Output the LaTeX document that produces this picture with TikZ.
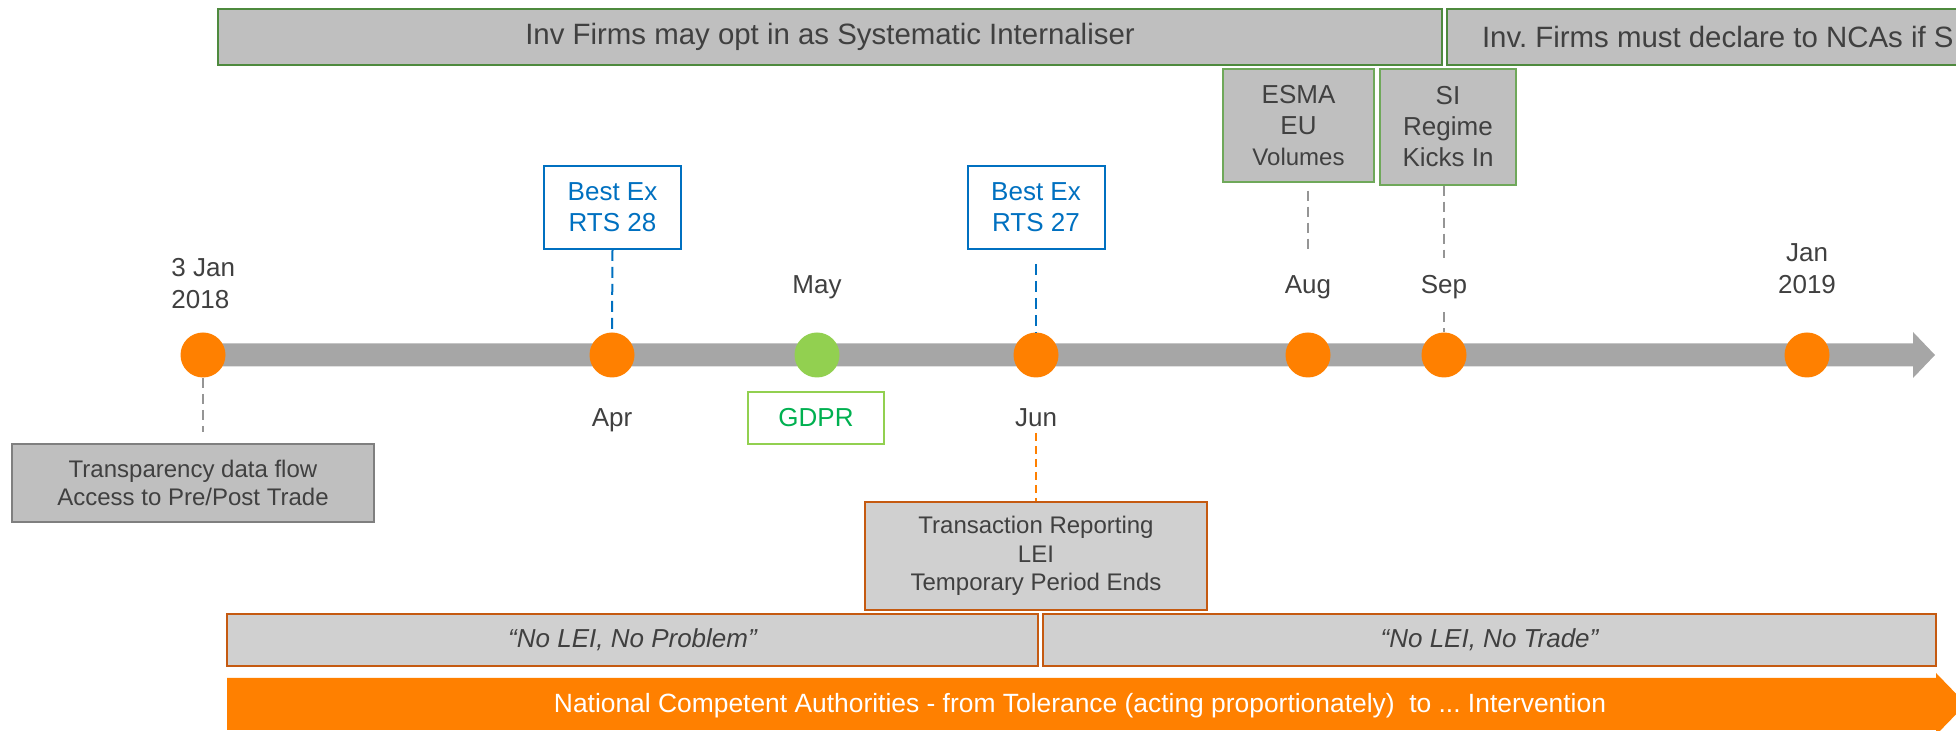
\documentclass[tikz,border=0pt]{standalone}
\usepackage{fontspec}
\setmainfont{Liberation Sans}
\frenchspacing
\definecolor{txtgray}{HTML}{404040}
\definecolor{barfill}{HTML}{BFBFBF}
\definecolor{lightfill}{HTML}{D0D0D0}
\definecolor{siggreen}{HTML}{4E8A3E}
\definecolor{softgreen}{HTML}{6FA85A}
\definecolor{tlgray}{HTML}{A6A6A6}
\definecolor{dotorange}{HTML}{FF8000}
\definecolor{dotgreen}{HTML}{92D050}
\definecolor{gdprtext}{HTML}{00B050}
\definecolor{bestblue}{HTML}{0070C0}
\definecolor{rust}{HTML}{C55A11}
\definecolor{boxgray}{HTML}{7F7F7F}
\definecolor{dashgray}{HTML}{959595}
\pgfdeclarelayer{bg}
\pgfsetlayers{bg,main}
\begin{document}
\begin{tikzpicture}[x=0.5pt,y=-0.5pt,
  every node/.style={text=txtgray},
  topbar/.style={draw=siggreen, line width=1pt, fill=barfill, minimum height=28pt, inner sep=0pt,
    font=\fontsize{14.7}{17}\selectfont},
  greybox/.style={draw=softgreen, line width=0.6pt, fill=barfill, inner sep=0pt, align=center,
    font=\fontsize{13}{15.5}\selectfont},
  bluebox/.style={draw=bestblue, line width=1pt, text=bestblue, inner sep=0pt, align=center,
    minimum width=68.5pt, minimum height=41.5pt, font=\fontsize{13}{15.5}\selectfont},
  leibox/.style={draw=rust, line width=1.2pt, fill=lightfill, inner sep=0pt, minimum height=26pt,
    font=\fontsize{13}{15.5}\selectfont\itshape},
  odot/.style={circle, fill=dotorange, minimum size=22.5pt, inner sep=0pt},
  gdot/.style={circle, fill=dotgreen, minimum size=22.5pt, inner sep=0pt},
  monthlbl/.style={inner sep=0pt, text height=9.5pt, text depth=3pt, font=\fontsize{13}{15.5}\selectfont},
  yearlbl/.style={inner sep=0pt, align=center, font=\fontsize{13}{16}\selectfont},
  graydash/.style={draw=dashgray, line width=1pt, dash pattern=on 5pt off 3pt},
  bluedash/.style={draw=bestblue, line width=1pt, dash pattern=on 5.5pt off 3pt},
  orangedash/.style={draw=dotorange, line width=0.8pt, dash pattern=on 4pt off 2.5pt},
]
\useasboundingbox (0,0) rectangle (1956,731);

% top regime bars (the second one runs on past the right edge)
\node[topbar, minimum width=612pt] (optin) at (830,37) {Inv Firms may opt in as Systematic Internaliser};
\node[topbar, anchor=west, inner xsep=17.5pt] (declare) at (1446,37)
  {\makebox[290pt][l]{Inv. Firms must declare to NCAs if SI}};

% milestones on the timeline
\node[odot] (d1) at (203,355) {};
\node[odot] (d2) at (612,355) {};
\node[gdot] (d3) at (817,355) {};
\node[odot] (d4) at (1036,355) {};
\node[odot] (d5) at (1308,355) {};
\node[odot] (d6) at (1444,355) {};
\node[odot] (d7) at (1807,355) {};

% timeline arrow
\begin{pgfonlayer}{bg}
  \fill[tlgray] (203,343.5) -- (1913,343.5) -- (1913,332) -- (1935,355)
    -- (1913,378) -- (1913,366.5) -- (203,366.5) -- cycle;
\end{pgfonlayer}

% date labels
\node[yearlbl, align=left, anchor=west] (jan18) at (171,284) {3 Jan\\2018};
\node[monthlbl] (aprlbl) at (612,420) {Apr};
\node[monthlbl] (maylbl) at (817,287) {May};
\node[monthlbl] (junlbl) at (1036,420) {Jun};
\node[monthlbl] (auglbl) at (1308,287) {Aug};
\node[monthlbl] (seplbl) at (1444,287) {Sep};
\node[yearlbl] (jan19) at (1807,269) {Jan\\2019};

% event boxes
\node[bluebox] (rts28) at (612.5,207.5) {Best Ex\\RTS 28};
\node[bluebox] (rts27) at (1036,207.5) {Best Ex\\RTS 27};
\node[draw=dotgreen, line width=0.9pt, text=gdprtext, inner sep=0pt, minimum width=68pt,
  minimum height=26pt, font=\fontsize{13}{15.5}\selectfont] (gdpr) at (816,418) {GDPR};
\node[greybox, minimum width=75.5pt, minimum height=56.5pt] (esma) at (1298.5,125.5)
  {ESMA\\EU\\{\fontsize{12}{15.5}\selectfont Volumes}};
\node[greybox, minimum width=68pt, minimum height=58pt] (si) at (1448,127)
  {SI\\Regime\\Kicks In};
\node[draw=boxgray, line width=1pt, fill=barfill, inner sep=0pt, align=center,
  minimum width=181pt, minimum height=39pt, font=\fontsize{12}{14}\selectfont] (transp) at (193,483)
  {Transparency data flow\\Access to Pre/Post Trade};
\node[draw=rust, line width=1pt, fill=lightfill, inner sep=0pt, align=center,
  minimum width=171pt, minimum height=54pt, font=\fontsize{12}{14.25}\selectfont] (trans) at (1036,556)
  {Transaction Reporting\\LEI\\Temporary Period Ends};

% LEI periods
\node[leibox, minimum width=405.5pt] (noprob) at (632.5,640) {“No LEI, No Problem”};
\node[leibox, minimum width=446.5pt] (notrade) at (1489.5,640) {“No LEI, No Trade”};

% NCA arrow
\fill[dotorange] (227,678) -- (1936,678) -- (1936,673) -- (1966,704) -- (1936,735)
  -- (1936,730) -- (227,730) -- cycle;
\node[text=white, inner sep=0pt, font=\fontsize{13.2}{15.5}\selectfont] (nca) at (1080,706)
  {National Competent Authorities - from Tolerance (acting proportionately)\ \ to ... Intervention};

% connectors
\draw[graydash, shorten >=5.5pt] (d1.south) -- (transp.north -| d1.south);
\draw[bluedash] (rts28.south) -- (d2.north);
\draw[bluedash, shorten <=7pt] (rts27.south) -- (d4.north);
\draw[orangedash] (junlbl.south) -- (trans.north);
\draw[graydash, shorten <=4pt, shorten >=10.75pt] (esma.south -| auglbl.north) -- (auglbl.north);
\draw[graydash, shorten >=8.25pt] (si.south -| seplbl.north) -- (seplbl.north);
\draw[graydash, shorten <=6.25pt] (seplbl.south) -- (d6.north);
\end{tikzpicture}
\end{document}
